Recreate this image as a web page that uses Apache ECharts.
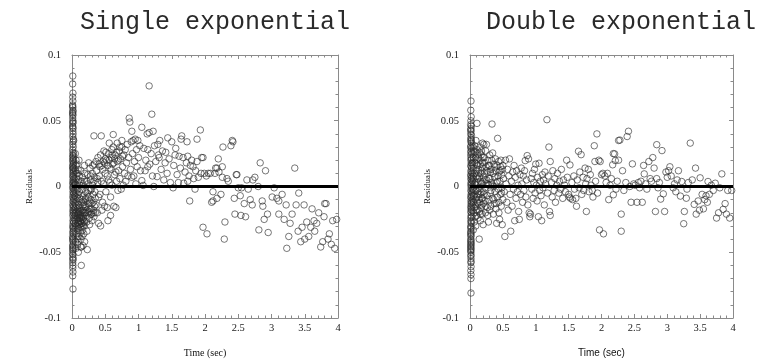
<!DOCTYPE html>
<html>
<head>
<meta charset="utf-8">
<script src="https://cdn.jsdelivr.net/npm/echarts@6/dist/echarts.min.js"></script>
<style>html,body{margin:0;padding:0;background:#fff}#c{width:768px;height:364px}</style>
</head>
<body>
<div id="c"></div>
<script>
// ---- Titles / axis names ----
const titles = ['Single exponential', 'Double exponential'];
const xName = 'Time (sec)';
const yName = 'Residuals';
const xRange = [0, 4];
const yRange = [-0.1, 0.1];
const zeroLine = [[0, 0], [4, 0]];

// ---- Single exponential residuals [time, residual] ----
const singleColumn = [[0.012,0.084],[0.010,0.078],[0.014,0.071],[0.011,0.068],[0.013,0.065],[0.009,0.062],[0.012,0.060],[0.015,0.058],[0.010,0.056],[0.013,0.054],[0.011,0.052],[0.014,0.050],[0.012,0.048],[0.010,0.046],[0.015,0.044],[0.013,0.042],[0.016,0.040],[0.011,0.038],[0.020,0.036],[0.014,0.034],[0.025,0.035],[0.012,0.032],[0.018,0.030],[0.010,0.028],[0.015,0.026],[0.022,0.025],[0.012,0.024],[0.017,0.023],[0.013,0.022],[0.020,0.021],[0.011,0.020],[0.016,0.019],[0.024,0.018],[0.013,0.017],[0.019,0.016],[0.010,0.015],[0.015,0.014],[0.028,0.014],[0.012,0.013],[0.021,0.012],[0.017,0.011],[0.014,0.010],[0.025,0.009],[0.011,0.008],[0.019,0.007],[0.030,0.006],[0.013,0.005],[0.022,0.004],[0.016,0.003],[0.035,0.003],[0.012,0.002],[0.026,0.001],[0.018,0.000],[0.040,0.001],[0.011,-0.001],[0.021,-0.002],[0.033,-0.003],[0.014,-0.004],[0.027,-0.005],[0.017,-0.006],[0.038,-0.007],[0.012,-0.008],[0.023,-0.009],[0.030,-0.010],[0.015,-0.011],[0.020,-0.012],[0.042,-0.013],[0.011,-0.014],[0.026,-0.015],[0.018,-0.016],[0.034,-0.017],[0.013,-0.018],[0.022,-0.019],[0.016,-0.020],[0.029,-0.021],[0.012,-0.022],[0.020,-0.024],[0.037,-0.025],[0.014,-0.026],[0.024,-0.027],[0.017,-0.028],[0.011,-0.030],[0.021,-0.031],[0.015,-0.032],[0.027,-0.033],[0.013,-0.035],[0.019,-0.036],[0.010,-0.038],[0.016,-0.039],[0.012,-0.041],[0.018,-0.042],[0.014,-0.044],[0.011,-0.046],[0.016,-0.047],[0.013,-0.049],[0.010,-0.051],[0.015,-0.052],[0.012,-0.054],[0.014,-0.056],[0.011,-0.058],[0.013,-0.060],[0.012,-0.062],[0.014,-0.065],[0.011,-0.068],[0.015,-0.078],[0.010,0.061],[0.014,0.057],[0.012,0.055],[0.015,0.049],[0.013,0.045],[0.018,-0.034],[0.012,-0.040],[0.015,-0.045],[0.013,-0.048],[0.016,-0.055]];
const singleEarly = [[0.05,0.025],[0.06,0.020],[0.055,0.012],[0.065,0.006],[0.05,0.002],[0.07,-0.003],[0.058,-0.008],[0.062,-0.014],[0.052,-0.020],[0.068,-0.025],[0.056,-0.030],[0.064,-0.036],[0.053,-0.042],[0.060,-0.047],[0.075,0.017],[0.08,0.010],[0.078,0.003],[0.085,-0.002],[0.072,-0.011],[0.082,-0.017],[0.076,-0.022],[0.088,-0.028],[0.080,-0.033],[0.09,-0.038],[0.085,-0.044],[0.095,-0.050],[0.092,0.013],[0.098,0.005],[0.095,-0.006],[0.1,-0.014],[0.097,-0.020],[0.093,-0.026],[0.105,0.020],[0.11,0.008],[0.115,0.001],[0.108,-0.004],[0.12,-0.009],[0.112,-0.016],[0.125,-0.021],[0.118,-0.024],[0.13,-0.027],[0.122,-0.031],[0.128,-0.035],[0.135,-0.040],[0.14,-0.046],[0.14,-0.060],[0.132,0.012],[0.138,0.004],[0.145,-0.002],[0.142,-0.012],[0.15,-0.018],[0.148,-0.023],[0.155,-0.028],[0.16,-0.033],[0.152,-0.038],[0.165,-0.045],[0.158,0.007],[0.17,0.001],[0.168,-0.007],[0.175,-0.014],[0.172,-0.020],[0.18,-0.026],[0.185,-0.030],[0.178,-0.036],[0.19,-0.042],[0.188,0.016],[0.195,0.004],[0.198,-0.010],[0.205,-0.004],[0.21,-0.016],[0.215,-0.022],[0.22,-0.027],[0.225,-0.034],[0.23,-0.048],[0.235,0.009],[0.24,0.002],[0.245,-0.008],[0.25,-0.013],[0.255,-0.019],[0.26,-0.024],[0.265,-0.029],[0.27,0.014],[0.275,0.005],[0.28,-0.003],[0.285,-0.010],[0.29,-0.017],[0.295,-0.021],[0.30,-0.026],[0.305,0.010],[0.31,0.001],[0.315,-0.006],[0.32,-0.012],[0.325,-0.018],[0.33,-0.023],[0.335,0.017],[0.34,0.007],[0.345,-0.004],[0.35,-0.009],[0.35,-0.020]];
const singleDense = [[0.045,-0.022],[0.05,-0.028],[0.055,-0.016],[0.06,-0.005],[0.065,0.010],[0.07,-0.019],[0.075,-0.030],[0.08,-0.024],[0.085,-0.009],[0.09,-0.021],[0.095,-0.032],[0.10,-0.027],[0.105,-0.019],[0.11,-0.024],[0.115,-0.029],[0.12,-0.022],[0.125,-0.026],[0.13,-0.019],[0.135,-0.031],[0.14,-0.024],[0.145,-0.028],[0.15,-0.010],[0.155,-0.022],[0.16,-0.025],[0.165,-0.030],[0.17,-0.018],[0.175,-0.024],[0.18,-0.012],[0.185,-0.020],[0.19,-0.027],[0.195,-0.015],[0.2,-0.020],[0.21,-0.009],[0.22,-0.018],[0.23,-0.005],[0.24,-0.020],[0.25,-0.003],[0.26,-0.011],[0.27,-0.017],[0.28,0.008],[0.29,-0.002],[0.30,-0.013],[0.31,0.016],[0.32,-0.020],[0.33,0.004],[0.34,-0.015],[0.06,0.016],[0.08,-0.040],[0.11,-0.038],[0.13,-0.046],[0.16,-0.015],[0.19,0.010],[0.22,0.004],[0.25,0.018],[0.28,-0.021],[0.36,0.019],[0.39,0.022],[0.41,0.017],[0.43,0.024],[0.46,0.013],[0.49,0.018],[0.51,0.026],[0.54,0.016],[0.56,0.020],[0.59,0.013],[0.61,0.024],[0.64,0.021],[0.67,0.026],[0.70,0.020],[0.72,0.030],[0.76,0.023]];
const singleMid = [[0.36,-0.014],[0.37,0.012],[0.38,-0.020],[0.39,0.003],[0.40,-0.028],[0.41,0.008],[0.42,-0.006],[0.43,-0.030],[0.44,0.0385],[0.33,0.0385],[0.45,0.016],[0.46,-0.012],[0.47,0.002],[0.48,0.027],[0.49,-0.015],[0.50,0.010],[0.51,-0.004],[0.52,0.020],[0.53,-0.016],[0.54,-0.026],[0.55,0.005],[0.56,0.033],[0.57,0.014],[0.58,-0.008],[0.59,0.022],[0.60,0.001],[0.61,0.017],[0.62,0.030],[0.62,0.0395],[0.63,-0.015],[0.64,0.009],[0.65,0.024],[0.66,-0.016],[0.67,0.004],[0.68,0.033],[0.68,0.019],[0.69,-0.003],[0.70,0.012],[0.71,0.027],[0.72,0.006],[0.73,0.021],[0.74,-0.002],[0.75,0.035],[0.75,0.030],[0.76,0.015],[0.77,0.001],[0.78,0.024],[0.79,0.010],[0.80,0.028],[0.81,0.004],[0.82,0.018],[0.83,0.032],[0.84,0.008],[0.85,0.022],[0.86,0.052],[0.87,0.049],[0.88,0.013],[0.89,0.034],[0.90,0.042],[0.90,0.007],[0.91,0.025],[0.92,0.035],[0.93,0.008],[0.94,0.019],[0.95,0.036],[0.96,0.002],[0.97,0.028],[0.98,0.015],[0.99,0.035],[1.00,0.022],[0.38,0.006],[0.42,0.015],[0.44,0.004],[0.47,0.019],[0.50,0.021],[0.53,0.008],[0.55,0.025],[0.57,0.003],[0.60,0.028],[0.63,0.018],[0.66,0.011],[0.58,-0.022],[0.40,-0.008],[0.45,-0.018]];
const singleLate = [[1.02,0.031],[1.03,0.012],[1.05,0.045],[1.05,0.0045],[1.07,0.0008],[1.08,0.029],[1.10,0.012],[1.11,0.020],[1.13,0.040],[1.14,0.028],[1.14,0.015],[1.16,0.041],[1.16,0.0765],[1.17,0.017],[1.19,0.025],[1.20,0.055],[1.21,0.008],[1.22,0.042],[1.23,0.000],[1.24,0.031],[1.26,0.019],[1.28,0.0075],[1.29,0.032],[1.30,0.024],[1.31,0.022],[1.32,0.035],[1.34,0.013],[1.36,0.027],[1.38,0.005],[1.40,0.018],[1.41,0.026],[1.43,0.010],[1.44,0.037],[1.46,0.021],[1.48,0.003],[1.50,0.034],[1.52,-0.001],[1.53,0.016],[1.55,0.024],[1.56,0.029],[1.58,0.009],[1.60,0.003],[1.61,0.023],[1.63,0.014],[1.64,0.036],[1.65,0.0385],[1.67,0.022],[1.68,0.0025],[1.70,0.011],[1.72,0.018],[1.73,0.034],[1.74,0.023],[1.74,0.004],[1.76,0.008],[1.77,-0.011],[1.78,0.016],[1.80,0.020],[1.82,0.015],[1.83,0.006],[1.85,-0.002],[1.86,0.012],[1.88,0.019],[1.88,0.036],[1.90,0.007],[1.93,0.043],[1.94,0.010],[1.95,0.022],[1.97,0.022],[1.97,-0.031],[1.99,0.010],[2.02,0.008],[2.03,-0.036],[2.05,0.010],[2.08,0.010],[2.10,-0.012],[2.12,-0.004],[2.12,-0.011],[2.15,0.010],[2.16,0.014],[2.18,0.014],[2.18,-0.009],[2.20,0.021],[2.21,0.011],[2.24,-0.006],[2.26,0.015],[2.26,0.007],[2.27,0.030],[2.29,-0.040],[2.30,-0.027],[2.33,0.006],[2.35,0.004],[2.39,0.031],[2.41,0.035],[2.42,0.034],[2.44,-0.009],[2.45,-0.021],[2.47,0.009],[2.48,0.009],[2.50,-0.001],[2.53,-0.007],[2.54,-0.022],[2.55,-0.001],[2.59,-0.013],[2.61,-0.023],[2.63,0.005],[2.65,-0.002],[2.68,-0.010],[2.71,-0.014],[2.72,0.005],[2.75,0.007],[2.80,0.000],[2.81,-0.033],[2.83,0.018],[2.86,-0.011],[2.87,-0.015],[2.89,-0.025],[2.91,0.012],[2.94,-0.021],[2.95,-0.035],[3.01,-0.008],[3.04,-0.001],[3.08,-0.009],[3.11,-0.011],[3.11,-0.021],[3.16,-0.006],[3.19,-0.025],[3.22,-0.014],[3.23,-0.047],[3.26,-0.038],[3.28,-0.028],[3.31,-0.021],[3.35,0.014],[3.37,-0.014],[3.40,-0.034],[3.41,-0.005],[3.44,-0.042],[3.46,-0.031],[3.49,-0.014],[3.50,-0.040],[3.53,-0.027],[3.56,-0.038],[3.59,-0.031],[3.61,-0.017],[3.64,-0.026],[3.65,-0.034],[3.68,-0.028],[3.71,-0.020],[3.74,-0.046],[3.77,-0.042],[3.79,-0.023],[3.80,-0.013],[3.82,-0.013],[3.85,-0.040],[3.87,-0.036],[3.90,-0.044],[3.92,-0.026],[3.95,-0.047],[3.98,-0.025]];

// ---- Double exponential residuals [time, residual] ----
const doubleColumn = [[0.015,0.065],[0.012,0.058],[0.018,0.053],[0.014,0.050],[0.010,0.047],[0.020,0.046],[0.013,0.044],[0.016,0.042],[0.011,0.040],[0.022,0.039],[0.014,0.037],[0.018,0.035],[0.012,0.034],[0.025,0.033],[0.015,0.031],[0.010,0.030],[0.020,0.029],[0.013,0.027],[0.017,0.026],[0.028,0.025],[0.011,0.024],[0.016,0.022],[0.022,0.021],[0.013,0.020],[0.019,0.018],[0.030,0.017],[0.012,0.016],[0.017,0.015],[0.025,0.014],[0.014,0.012],[0.020,0.011],[0.033,0.010],[0.011,0.009],[0.016,0.008],[0.027,0.007],[0.013,0.006],[0.021,0.005],[0.036,0.004],[0.015,0.003],[0.024,0.002],[0.012,0.001],[0.030,0.000],[0.018,-0.001],[0.040,-0.002],[0.013,-0.003],[0.022,-0.004],[0.034,-0.005],[0.016,-0.006],[0.026,-0.007],[0.011,-0.008],[0.020,-0.009],[0.038,-0.010],[0.014,-0.011],[0.024,-0.012],[0.017,-0.013],[0.031,-0.014],[0.012,-0.015],[0.021,-0.016],[0.015,-0.017],[0.028,-0.018],[0.013,-0.019],[0.019,-0.020],[0.016,-0.022],[0.024,-0.023],[0.012,-0.024],[0.018,-0.026],[0.014,-0.027],[0.021,-0.028],[0.011,-0.030],[0.017,-0.031],[0.013,-0.032],[0.015,-0.034],[0.012,-0.035],[0.016,-0.037],[0.013,-0.038],[0.015,-0.040],[0.012,-0.041],[0.014,-0.043],[0.016,-0.044],[0.013,-0.046],[0.015,-0.047],[0.012,-0.049],[0.014,-0.050],[0.016,-0.052],[0.013,-0.053],[0.015,-0.055],[0.014,-0.058],[0.016,-0.061],[0.013,-0.064],[0.015,-0.067],[0.014,-0.070],[0.015,-0.081],[0.012,0.043],[0.016,0.036],[0.013,-0.036],[0.015,-0.042],[0.012,-0.045],[0.014,-0.048],[0.016,-0.057]];
const doubleEarly = [[0.045,0.030],[0.05,0.022],[0.055,0.014],[0.048,0.006],[0.06,-0.003],[0.052,-0.012],[0.058,-0.020],[0.065,-0.027],[0.05,-0.033],[0.07,0.026],[0.075,0.018],[0.068,0.010],[0.08,0.003],[0.072,-0.006],[0.085,-0.015],[0.078,-0.023],[0.088,-0.030],[0.09,0.035],[0.095,0.020],[0.1,0.012],[0.092,0.001],[0.105,-0.008],[0.098,-0.018],[0.106,0.048],[0.11,0.028],[0.115,0.016],[0.12,0.006],[0.118,-0.004],[0.125,-0.013],[0.122,-0.024],[0.13,0.022],[0.135,0.010],[0.14,-0.001],[0.138,-0.010],[0.145,-0.019],[0.14,-0.040],[0.15,0.030],[0.155,0.017],[0.16,0.004],[0.158,-0.006],[0.165,-0.016],[0.157,-0.026],[0.17,0.024],[0.175,0.012],[0.18,0.002],[0.178,-0.009],[0.185,-0.021],[0.19,0.033],[0.195,0.018],[0.2,0.007],[0.198,-0.004],[0.205,-0.013],[0.2,-0.029],[0.21,0.032],[0.215,0.022],[0.22,0.010],[0.225,-0.001],[0.23,-0.011],[0.235,-0.020],[0.24,0.027],[0.245,0.015],[0.25,0.032],[0.255,0.005],[0.26,-0.007],[0.265,-0.016],[0.27,0.020],[0.275,0.011],[0.28,-0.027],[0.285,0.001],[0.29,-0.010],[0.295,0.016],[0.30,0.024],[0.305,0.006],[0.31,-0.005],[0.315,-0.015],[0.32,0.013],[0.325,0.003],[0.335,0.0475],[0.34,-0.009],[0.345,0.0255],[0.35,0.010],[0.355,-0.021],[0.36,0.000],[0.365,0.017],[0.37,-0.013],[0.375,0.007],[0.38,-0.004],[0.385,0.021],[0.39,0.012],[0.395,-0.017],[0.40,0.003],[0.405,-0.028],[0.41,0.016],[0.415,-0.008],[0.42,0.0366],[0.425,0.008],[0.43,-0.002],[0.435,0.019],[0.44,-0.012],[0.445,0.011],[0.45,-0.025],[0.455,0.004],[0.46,-0.006],[0.465,0.015],[0.47,0.020],[0.475,-0.015],[0.48,0.009],[0.485,-0.001],[0.49,-0.029],[0.495,0.013],[0.50,-0.010]];
const doubleDense = [[0.04,0.018],[0.05,0.008],[0.055,-0.007],[0.06,0.027],[0.065,-0.016],[0.07,0.002],[0.075,0.031],[0.08,-0.010],[0.085,0.022],[0.09,-0.003],[0.095,0.008],[0.1,-0.022],[0.105,0.017],[0.11,-0.012],[0.115,0.025],[0.12,-0.018],[0.125,0.003],[0.13,0.013],[0.135,-0.006],[0.14,0.026],[0.145,0.007],[0.15,-0.012],[0.155,0.020],[0.16,-0.021],[0.165,0.010],[0.17,-0.004],[0.175,0.027],[0.18,-0.014],[0.185,0.015],[0.19,-0.009],[0.195,0.004],[0.2,0.022],[0.21,-0.006],[0.22,0.018],[0.23,0.005],[0.24,-0.015],[0.25,0.012],[0.26,0.002],[0.27,-0.022],[0.28,0.016],[0.29,0.006],[0.30,-0.018],[0.31,0.011],[0.32,-0.003],[0.33,0.020],[0.34,0.001],[0.36,-0.010],[0.38,0.015],[0.40,-0.013],[0.42,0.004],[0.44,-0.020],[0.46,0.012],[0.48,-0.005],[0.50,0.016]];
const doubleMid = [[0.51,0.006],[0.52,-0.004],[0.53,-0.038],[0.54,0.020],[0.55,0.002],[0.56,-0.012],[0.57,0.013],[0.58,-0.018],[0.59,0.008],[0.60,0.021],[0.61,-0.006],[0.62,-0.034],[0.63,0.004],[0.64,-0.015],[0.65,0.011],[0.66,-0.002],[0.67,0.016],[0.68,-0.026],[0.69,0.007],[0.70,-0.009],[0.71,0.012],[0.72,-0.004],[0.73,0.001],[0.74,-0.019],[0.75,-0.025],[0.76,0.009],[0.77,-0.006],[0.78,0.014],[0.79,0.002],[0.80,-0.012],[0.81,0.008],[0.82,-0.003],[0.83,0.012],[0.84,0.0197],[0.85,-0.008],[0.86,0.005],[0.87,0.0235],[0.88,-0.014],[0.89,0.021],[0.90,-0.020],[0.91,-0.023],[0.92,-0.021],[0.93,0.006],[0.94,-0.002],[0.95,0.010],[0.96,-0.009],[0.97,0.003],[0.98,0.013],[0.99,-0.005],[1.00,0.017],[1.01,0.001],[1.02,-0.011],[1.03,0.007],[1.04,-0.023],[1.05,0.0177],[1.06,-0.003],[1.07,0.004],[1.08,-0.007],[1.09,-0.026],[1.10,0.009],[1.11,-0.001],[1.12,0.005],[1.13,-0.014],[1.14,0.011],[1.15,0.002],[1.17,0.0508],[1.18,-0.005],[1.19,0.008],[1.20,0.030],[1.21,-0.019],[1.22,0.019],[1.22,-0.022],[1.24,0.003],[1.25,-0.008],[1.26,0.012],[1.28,-0.003],[1.29,0.006],[1.30,-0.012],[1.32,0.001],[1.33,0.010],[1.35,-0.005],[1.36,0.004],[1.38,-0.002],[1.39,0.013],[1.41,-0.009],[1.42,0.005],[1.44,0.001],[1.45,-0.004],[1.47,0.020],[1.48,0.007],[1.50,-0.006],[1.51,-0.008],[1.52,0.0164],[1.53,-0.009],[1.55,0.003],[1.56,-0.010],[1.58,0.008],[1.59,-0.002],[1.61,-0.009],[1.62,-0.015],[1.63,0.005],[1.65,0.0268],[1.66,-0.001],[1.67,0.011],[1.69,0.0242],[1.70,-0.006],[1.72,0.007],[1.73,-0.003],[1.75,0.014],[1.76,0.002],[1.77,-0.019],[1.78,0.006],[1.80,0.013],[1.81,-0.004],[1.83,0.009],[1.84,0.001],[1.86,-0.003],[1.87,-0.008],[1.89,0.031],[1.90,0.019],[1.91,0.004],[1.93,0.040],[1.94,-0.005],[1.96,0.020],[1.97,-0.033],[1.98,0.019]];
const doubleLate = [[2.00,0.009],[2.02,0.010],[2.03,-0.036],[2.05,0.008],[2.07,0.003],[2.09,0.010],[2.11,-0.010],[2.13,0.001],[2.15,0.006],[2.17,0.0165],[2.18,-0.0063],[2.18,0.025],[2.20,0.0248],[2.21,0.0197],[2.22,-0.002],[2.24,0.004],[2.26,0.035],[2.26,0.020],[2.28,0.0353],[2.30,-0.021],[2.30,-0.034],[2.32,0.012],[2.34,-0.003],[2.37,0.003],[2.39,0.038],[2.41,0.042],[2.43,0.000],[2.45,-0.012],[2.47,0.0172],[2.49,0.002],[2.51,0.001],[2.54,-0.012],[2.56,0.003],[2.58,-0.001],[2.60,0.004],[2.62,-0.012],[2.64,0.016],[2.65,0.0096],[2.67,0.002],[2.69,-0.002],[2.72,0.019],[2.74,0.006],[2.76,0.004],[2.78,0.022],[2.80,0.014],[2.82,-0.019],[2.84,0.0318],[2.84,0.006],[2.86,-0.001],[2.88,0.003],[2.90,-0.0096],[2.92,0.0273],[2.94,-0.0056],[2.96,-0.019],[2.98,0.011],[3.00,0.007],[3.02,0.012],[3.04,0.015],[3.06,0.008],[3.09,-0.001],[3.11,0.002],[3.13,-0.004],[3.15,0.005],[3.17,0.012],[3.20,-0.0073],[3.22,0.0038],[3.25,-0.0283],[3.26,-0.019],[3.29,-0.0089],[3.30,-0.002],[3.32,0.003],[3.35,0.033],[3.38,0.005],[3.41,-0.0136],[3.43,0.014],[3.44,-0.021],[3.47,-0.011],[3.49,-0.018],[3.50,0.0066],[3.53,-0.006],[3.55,-0.017],[3.57,-0.010],[3.59,-0.007],[3.61,-0.012],[3.62,0.0038],[3.64,-0.006],[3.67,0.001],[3.70,-0.003],[3.73,0.0025],[3.75,-0.024],[3.78,-0.020],[3.80,-0.001],[3.83,0.0096],[3.85,-0.0174],[3.88,-0.013],[3.90,-0.021],[3.92,-0.003],[3.95,-0.024],[3.98,-0.003]];

const singleData = singleColumn.concat(singleEarly, singleDense, singleMid, singleLate);
const doubleData = doubleColumn.concat(doubleEarly, doubleDense, doubleMid, doubleLate);

const frameColor = '#8a8a8a';
const serif = '"Liberation Serif", "Times New Roman", serif';
const sans = '"Liberation Sans", Arial, sans-serif';
const mono = '"Liberation Mono", "Courier New", monospace';

function xAxis(gi, pos, withLabel, nameFont) {
  return {
    type: 'value', gridIndex: gi, position: pos, min: xRange[0], max: xRange[1], interval: 0.5,
    name: withLabel ? xName : '', nameLocation: 'middle', nameGap: 30,
    nameTextStyle: { fontFamily: nameFont, fontSize: 10, color: '#111' },
    axisLine: { show: true, onZero: false, lineStyle: { color: frameColor, width: 1 } },
    axisTick: { show: true, inside: true, length: 4, lineStyle: { color: frameColor } },
    minorTick: { show: true, splitNumber: 5, length: 2.5, lineStyle: { color: frameColor } },
    axisLabel: { show: withLabel, margin: 5, fontFamily: serif, fontSize: 10.5, color: '#222' },
    splitLine: { show: false }, minorSplitLine: { show: false }
  };
}
function yAxis(gi, pos, withLabel) {
  return {
    type: 'value', gridIndex: gi, position: pos, min: yRange[0], max: yRange[1], interval: 0.05,
    name: withLabel ? yName : '', nameLocation: 'middle', nameGap: 38, nameRotate: 90,
    nameTextStyle: { fontFamily: serif, fontSize: 9, color: '#111' },
    axisLine: { show: true, onZero: false, lineStyle: { color: frameColor, width: 1 } },
    axisTick: { show: true, inside: true, length: 4, lineStyle: { color: frameColor } },
    minorTick: { show: true, splitNumber: 5, length: 2.5, lineStyle: { color: frameColor } },
    axisLabel: { show: withLabel, margin: 11, fontFamily: serif, fontSize: 10.5, color: '#222' },
    splitLine: { show: false }, minorSplitLine: { show: false }
  };
}
function scatter(xi, yi, data) {
  return {
    type: 'scatter', xAxisIndex: xi, yAxisIndex: yi, data: data,
    symbol: 'circle', symbolSize: 6.5,
    itemStyle: { color: 'rgba(0,0,0,0)', borderColor: '#2a2a2a', borderWidth: 0.8 },
    silent: true, z: 3
  };
}
function zero(xi, yi) {
  return {
    type: 'line', xAxisIndex: xi, yAxisIndex: yi, data: zeroLine, symbol: 'none',
    lineStyle: { color: '#000', width: 3 }, silent: true, z: 4
  };
}

const chart = echarts.init(document.getElementById('c'), null, { renderer: 'canvas' });
chart.setOption({
  animation: false,
  backgroundColor: '#fff',
  grid: [
    { left: 72, right: 430, top: 55, bottom: 46 },
    { left: 470, right: 35, top: 55, bottom: 46 }
  ],
  xAxis: [xAxis(0, 'bottom', true, serif), xAxis(0, 'top', false, serif),
          xAxis(1, 'bottom', true, sans), xAxis(1, 'top', false, sans)],
  yAxis: [yAxis(0, 'left', true), yAxis(0, 'right', false),
          yAxis(1, 'left', true), yAxis(1, 'right', false)],
  series: [scatter(0, 0, singleData), zero(0, 0), scatter(2, 2, doubleData), zero(2, 2)],
  graphic: [
    { type: 'text', x: 215, y: 22, style: { text: titles[0], font: '25px ' + mono, fill: '#2a2a2a', textAlign: 'center', textVerticalAlign: 'middle' } },
    { type: 'text', x: 621, y: 22, style: { text: titles[1], font: '25px ' + mono, fill: '#2a2a2a', textAlign: 'center', textVerticalAlign: 'middle' } }
  ]
});
</script>
</body>
</html>
